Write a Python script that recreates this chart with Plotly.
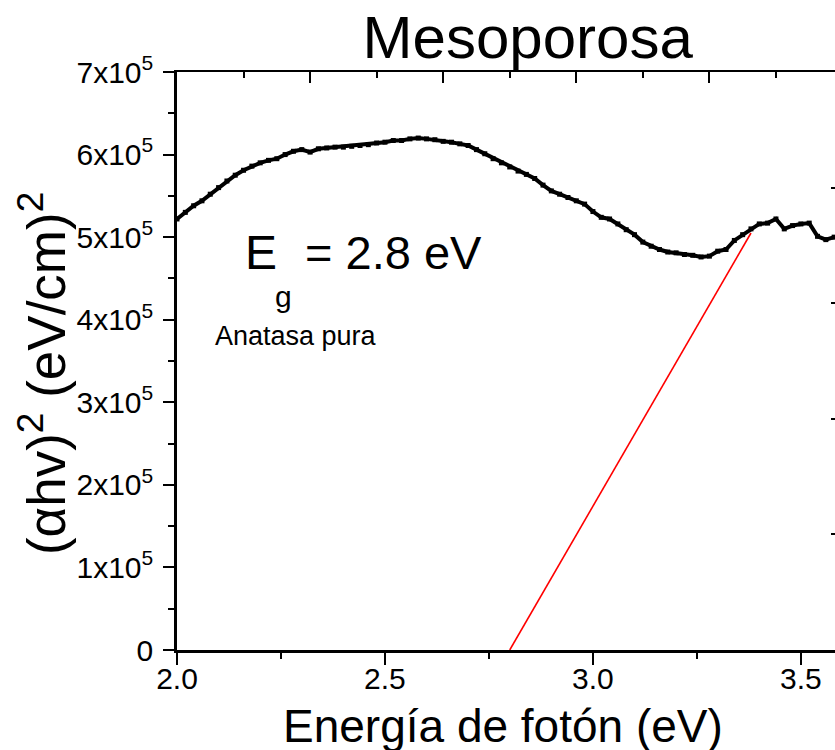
import plotly.graph_objects as go

# Photon energy (eV) and (alpha h nu)^2 in units of 1e5 (eV/cm)^2
energy = [2.00, 2.02, 2.04, 2.06, 2.08, 2.10, 2.12, 2.14, 2.16, 2.18,
          2.20, 2.22, 2.24, 2.26, 2.28, 2.30, 2.32, 2.34, 2.36, 2.38,
          2.40, 2.42, 2.44, 2.46, 2.48, 2.50, 2.52, 2.54, 2.56, 2.58,
          2.60, 2.62, 2.64, 2.66, 2.68, 2.70, 2.72, 2.74, 2.76, 2.78,
          2.80, 2.82, 2.84, 2.86, 2.88, 2.90, 2.92, 2.94, 2.96, 2.98,
          3.00, 3.02, 3.04, 3.06, 3.08, 3.10, 3.12, 3.14, 3.16, 3.18,
          3.20, 3.22, 3.24, 3.26, 3.28, 3.30, 3.32, 3.34, 3.36, 3.38,
          3.40, 3.42, 3.44, 3.46, 3.48, 3.50, 3.52, 3.54, 3.56, 3.58]
absorb_1e5 = [5.22, 5.30, 5.38, 5.44, 5.52, 5.60, 5.68, 5.75, 5.81, 5.86,
              5.90, 5.93, 5.95, 6.00, 6.04, 6.06, 6.03, 6.07, 6.08, 6.09,
              6.09, 6.10, 6.11, 6.12, 6.14, 6.15, 6.17, 6.17, 6.19, 6.20,
              6.19, 6.18, 6.16, 6.15, 6.13, 6.11, 6.06, 6.01, 5.95, 5.90,
              5.85, 5.80, 5.76, 5.71, 5.63, 5.56, 5.52, 5.48, 5.44, 5.40,
              5.31, 5.24, 5.22, 5.16, 5.09, 5.03, 4.94, 4.89, 4.85, 4.82,
              4.81, 4.79, 4.78, 4.76, 4.77, 4.83, 4.85, 4.96, 5.03, 5.10,
              5.16, 5.17, 5.22, 5.10, 5.14, 5.16, 5.17, 5.01, 4.97, 5.00]
absorb = [v * 1e5 for v in absorb_1e5]

# Linear fit (band-gap extrapolation)
fit_x = [2.80, 3.38]
fit_y = [0.0, 5.05e5]

# Tick labels
x_tickvals = [2.0, 2.5, 3.0, 3.5]
x_ticktext = ["2.0", "2.5", "3.0", "3.5"]
y_tickvals = [0, 1e5, 2e5, 3e5, 4e5, 5e5, 6e5, 7e5]
y_ticktext = ["0"] + [f"{i}x10<sup>5</sup>" for i in range(1, 8)]

FONT = "Liberation Sans, Arial, sans-serif"

fig = go.Figure()
fig.add_trace(go.Scatter(
    x=energy, y=absorb, mode="lines+markers",
    line=dict(color="black", width=4),
    marker=dict(symbol="square", size=5, color="black"),
    showlegend=False, hoverinfo="skip"))
fig.add_trace(go.Scatter(
    x=fit_x, y=fit_y, mode="lines",
    line=dict(color="#ff0000", width=1.6),
    showlegend=False, hoverinfo="skip"))
# helper trace so the top / right decorative axes are drawn
fig.add_trace(go.Scatter(x=[None], y=[None], xaxis="x2", yaxis="y2",
                         showlegend=False, hoverinfo="skip"))

fig.update_layout(
    width=835, height=750,
    margin=dict(l=177, r=0, t=72, b=100, autoexpand=False),
    paper_bgcolor="white", plot_bgcolor="white",
    font=dict(family=FONT, color="black"),
    title=dict(text="Mesoporosa", font=dict(size=60, family=FONT, color="black"),
               x=0.533, xref="paper", xanchor="center",
               y=0.951, yref="container", yanchor="middle"),
    xaxis=dict(range=[2.0, 3.582], tickvals=x_tickvals, ticktext=x_ticktext,
               automargin=False,
               showgrid=False, zeroline=False,
               showline=True, linecolor="black", linewidth=3,
               ticks="outside", ticklen=12, tickwidth=2, tickcolor="black",
               ticklabelstandoff=-12,
               minor=dict(dtick=0.25, tick0=2.0, ticks="outside", ticklen=6,
                          tickwidth=2, tickcolor="black", showgrid=False),
               tickfont=dict(size=30, family=FONT, color="black")),
    yaxis=dict(range=[0, 7e5], tickvals=y_tickvals, ticktext=y_ticktext,
               automargin=False,
               showgrid=False, zeroline=False,
               showline=True, linecolor="black", linewidth=2.5,
               ticks="outside", ticklen=11, tickwidth=2, tickcolor="black",
               ticklabelstandoff=4,
               minor=dict(dtick=0.5e5, tick0=0, ticks="outside", ticklen=6,
                          tickwidth=2, tickcolor="black", showgrid=False),
               tickfont=dict(size=30, family=FONT, color="black")),
    xaxis2=dict(overlaying="x", side="top", range=[0, 4.947], automargin=False,
                tick0=0, dtick=1, showticklabels=False, showgrid=False,
                zeroline=False, showline=True, linecolor="black", linewidth=2,
                ticks="inside", ticklen=11, tickwidth=2, tickcolor="black",
                minor=dict(dtick=0.5, ticks="inside", ticklen=6, tickwidth=2,
                           tickcolor="black", showgrid=False)),
    yaxis2=dict(overlaying="y", side="right", range=[0, 5], automargin=False,
                tickvals=[1, 2, 3, 4], showticklabels=False, showgrid=False,
                zeroline=False, showline=False,
                ticks="inside", ticklen=4, tickwidth=2, tickcolor="black"),
)

ann = [
    dict(text="Energía de fotón (eV)", xref="paper", yref="paper",
         x=0.495, y=-0.131, xanchor="center", yanchor="middle",
         font=dict(size=46, family=FONT, color="black"), showarrow=False),
    dict(text="(αhv)<sup>2</sup> (eV/cm)<sup>2</sup>", xref="paper", yref="paper",
         x=-0.205, y=0.4775, xanchor="center", yanchor="middle", textangle=-90,
         font=dict(size=53, family=FONT, color="black"), showarrow=False),
    dict(text="E", xref="x", yref="y", x=2.159, y=4.81e5,
         xanchor="left", yanchor="middle",
         font=dict(size=48, family=FONT, color="black"), showarrow=False),
    dict(text="g", xref="x", yref="y", x=2.257, y=4.28e5,
         xanchor="center", yanchor="middle",
         font=dict(size=30, family=FONT, color="black"), showarrow=False),
    dict(text="= 2.8 eV", xref="x", yref="y", x=2.303, y=4.81e5,
         xanchor="left", yanchor="middle",
         font=dict(size=47, family=FONT, color="black"), showarrow=False),
    dict(text="Anatasa pura", xref="x", yref="y", x=2.0865, y=3.80e5,
         xanchor="left", yanchor="middle",
         font=dict(size=27, family=FONT, color="black"), showarrow=False),
]
fig.update_layout(annotations=ann)

fig.write_html("out.html", config={"displayModeBar": False},
               post_script="document.body.style.margin='0';")
